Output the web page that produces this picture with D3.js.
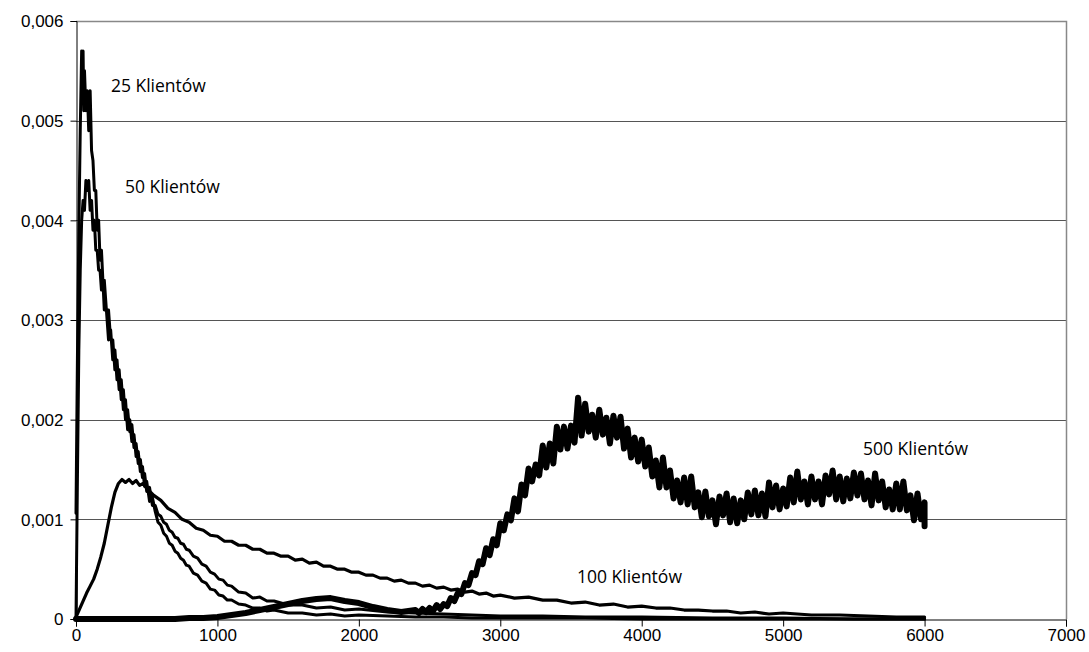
<!DOCTYPE html>
<html><head><meta charset="utf-8">
<script src="https://cdn.jsdelivr.net/npm/d3@7"></script>
<style>body{margin:0;background:#fff}svg{display:block}</style>
</head><body>
<svg id="c" width="1089" height="652"></svg>
<script>
// ---- data (x, probability density) ----
const xTicks = [0,1000,2000,3000,4000,5000,6000,7000];
const yTicks = [0,0.001,0.002,0.003,0.004,0.005,0.006];
const yTickLabels = ["0","0,001","0,002","0,003","0,004","0,005","0,006"];
const seriesNames = ["25 Klientów","50 Klientów","100 Klientów","500 Klientów"];

const s25 = [[0,0.00106],[10,0.0026],[20,0.0039],[30,0.0049],[40,0.0057],[45,0.0052],[50,0.0057],[55,0.0051],[60,0.0055],[70,0.0051],
[80,0.0053],[90,0.0049],[100,0.0053],[110,0.0047],[120,0.0046],[130,0.0043],[140,0.0043],[150,0.0039],[160,0.004],[170,0.0036],
[180,0.0037],[190,0.0034],[200,0.0034],[215,0.0031],[230,0.0031],[245,0.0028],[260,0.0028],[275,0.0025],[290,0.0026],[305,0.0023],
[320,0.0024],[335,0.0021],[350,0.0022],[365,0.0019],[380,0.002],[395,0.00178],[410,0.00185],[425,0.00163],[440,0.00168],[455,0.00148],
[470,0.00153],[485,0.00133],[500,0.00138],[520,0.00118],[540,0.00122],[560,0.00108],[580,0.00097],[600,0.00094],[620,0.00086],[640,0.00083],
[660,0.00076],[680,0.00074],[700,0.00068],[720,0.00066],[740,0.00061],[760,0.00059],[780,0.00054],[800,0.00053],[830,0.00046],[860,0.00044],
[890,0.00038],[920,0.00036],[950,0.0003],[980,0.00029],[1010,0.00024],[1040,0.00023],[1070,0.00019],[1100,0.00019],[1150,0.00015],[1200,0.00014],
[1250,0.00011],[1300,0.00011],[1350,0.00008],[1400,0.00009],[1500,0.00006],[1600,0.00006],[1700,0.00004],[1800,0.00005],[1900,0.00003],[2000,0.00004],
[2200,0.00003],[2400,0.00002],[2600,0.00002],[2800,0.00001],[3000,0.00001],[3300,0.00001],[3600,0.00001],[4000,0],[4500,0],[5000,0],[5500,0],[6000,0]];

const s50 = [[0,0],[10,0.0014],[20,0.0027],[30,0.0035],[40,0.004],[50,0.0042],[60,0.0041],[70,0.0044],[80,0.0043],[90,0.0044],
[100,0.0041],[110,0.0042],[120,0.0039],[130,0.004],[140,0.0037],[150,0.0037],[160,0.0035],[170,0.0035],[180,0.0033],[190,0.0034],
[200,0.0031],[215,0.0031],[230,0.0028],[245,0.0029],[260,0.0026],[275,0.0027],[290,0.0024],[305,0.0025],[320,0.0022],[335,0.0023],
[350,0.002],[365,0.0021],[380,0.00188],[395,0.00195],[410,0.00172],[425,0.00176],[440,0.00156],[455,0.0016],[470,0.00142],[485,0.00146],
[500,0.00128],[520,0.00132],[540,0.00114],[560,0.00114],[580,0.00105],[600,0.00103],[620,0.00097],[640,0.00095],[660,0.00089],[680,0.00087],
[700,0.00082],[720,0.00081],[740,0.00076],[760,0.00075],[780,0.0007],[800,0.00069],[830,0.00063],[860,0.00061],[890,0.00055],[920,0.00053],
[950,0.00047],[980,0.00045],[1010,0.0004],[1040,0.00039],[1070,0.00034],[1100,0.00033],[1150,0.00027],[1200,0.00026],[1250,0.00021],[1300,0.00022],
[1350,0.00018],[1400,0.00018],[1500,0.00014],[1600,0.00014],[1700,0.00011],[1800,0.00012],[1900,0.00009],[2000,0.0001],[2200,0.00007],[2400,0.00006],
[2600,0.00005],[2800,0.00004],[3000,0.00003],[3300,0.00003],[3600,0.00002],[4000,0.00002],[4500,0.00001],[5000,0.00001],[5500,0],[6000,0]];

const s100 = [[0,0.00002],[25,0.0001],[50,0.00018],[75,0.00026],[100,0.00033],[125,0.0004],[150,0.0005],[175,0.00062],[200,0.00076],[225,0.00094],
[250,0.00112],[275,0.00127],[300,0.00136],[325,0.0014],[350,0.00137],[375,0.0014],[400,0.00136],[425,0.00139],[450,0.00134],[475,0.00136],
[500,0.00131],[550,0.00124],[600,0.00119],[650,0.00111],[700,0.00107],[750,0.001],[800,0.00097],[850,0.00091],[900,0.00089],[950,0.00084],
[1000,0.00083],[1050,0.00078],[1100,0.00078],[1150,0.00074],[1200,0.00074],[1250,0.0007],[1300,0.0007],[1350,0.00066],[1400,0.00066],[1450,0.00063],
[1500,0.00063],[1550,0.00059],[1600,0.0006],[1650,0.00056],[1700,0.00057],[1750,0.00053],[1800,0.00053],[1850,0.0005],[1900,0.0005],[1950,0.00047],
[2000,0.00047],[2050,0.00044],[2100,0.00044],[2150,0.00041],[2200,0.00041],[2250,0.00038],[2300,0.00039],[2350,0.00036],[2400,0.00036],[2450,0.00033],
[2500,0.00034],[2550,0.00031],[2600,0.00032],[2650,0.00029],[2700,0.0003],[2750,0.00027],[2800,0.00028],[2850,0.00025],[2900,0.00026],[2950,0.00023],
[3000,0.00024],[3100,0.00021],[3200,0.00022],[3300,0.00019],[3400,0.00019],[3500,0.00016],[3600,0.00017],[3700,0.00014],[3800,0.00015],[3900,0.00012],
[4000,0.00013],[4100,0.00011],[4200,0.00011],[4300,0.00009],[4400,0.00009],[4500,0.00008],[4600,0.00008],[4700,0.00006],[4800,0.00007],[4900,0.00005],
[5000,0.00006],[5200,0.00004],[5400,0.00004],[5600,0.00003],[5800,0.00002],[6000,0.00002]];

const s500 = [[0,0],[100,0],[200,0],[300,0],[400,0],[500,0],[600,0],[700,0],[800,0.00001],[900,0.00001],
[1000,0.00002],[1100,0.00004],[1200,0.00006],[1300,0.00009],[1400,0.00012],[1500,0.00015],[1600,0.00018],[1700,0.0002],[1800,0.00021],[1900,0.00018],
[2000,0.00016],[2100,0.00012],[2200,0.00009],[2300,0.00007],
[2400,0.00009],[2425,0.00006],[2450,0.0001],[2475,0.00007],[2500,0.00011],[2525,0.00008],[2550,0.00014],[2575,0.0001],
[2600,0.00015],[2625,0.00013],[2650,0.00021],[2675,0.00018],[2700,0.00026],[2725,0.00025],[2750,0.00036],[2775,0.00034],
[2800,0.00046],[2825,0.00044],[2850,0.00058],[2875,0.00055],
[2900,0.00071],[2925,0.00064],[2950,0.0008],[2975,0.00074],[3000,0.00096],[3025,0.00089],[3050,0.00105],[3075,0.00099],
[3100,0.00121],[3125,0.00108],[3150,0.00135],[3175,0.00124],[3200,0.00151],[3225,0.00138],[3250,0.00155],[3275,0.00144],
[3300,0.00174],[3325,0.00152],[3350,0.00176],[3375,0.00156],[3400,0.00193],[3425,0.0017],[3450,0.00193],[3475,0.00171],
[3500,0.00194],[3525,0.00177],[3550,0.00222],[3575,0.00184],[3600,0.00216],[3625,0.00188],[3650,0.00205],[3675,0.00182],
[3700,0.0021],[3725,0.00185],[3750,0.00202],[3775,0.00176],[3800,0.00204],[3825,0.00182],[3850,0.00203],[3875,0.00171],
[3900,0.00191],[3925,0.00162],[3950,0.00182],[3975,0.00158],[4000,0.0018],[4025,0.00153],[4050,0.00172],[4075,0.00143],
[4100,0.00159],[4125,0.00132],[4150,0.00162],[4175,0.00132],[4200,0.00149],[4225,0.00121],[4250,0.00139],[4275,0.00117],
[4300,0.00142],[4325,0.00115],[4350,0.00143],[4375,0.00112],[4400,0.00127],[4425,0.00102],[4450,0.00128],[4475,0.00103],
[4500,0.00119],[4525,0.00095],[4550,0.00123],[4575,0.00104],[4600,0.00126],[4625,0.00097],[4650,0.00121],[4675,0.00096],
[4700,0.00119],[4725,0.001],[4750,0.00127],[4775,0.00105],[4800,0.00129],[4825,0.00104],[4850,0.00126],[4875,0.00103],
[4900,0.00137],[4925,0.00112],[4950,0.00134],[4975,0.0011],[5000,0.00131],[5025,0.00113],[5050,0.00142],[5075,0.00117],
[5100,0.00148],[5125,0.0012],[5150,0.00138],[5175,0.00115],[5200,0.00143],[5225,0.0012],[5250,0.00138],[5275,0.00115],
[5300,0.00144],[5325,0.00125],[5350,0.00149],[5375,0.0012],[5400,0.00143],[5425,0.00118],[5450,0.00141],[5475,0.00121],
[5500,0.00147],[5525,0.00124],[5550,0.00146],[5575,0.0012],[5600,0.00139],[5625,0.00114],[5650,0.00146],[5675,0.00119],
[5700,0.00138],[5725,0.00112],[5750,0.0013],[5775,0.0011],[5800,0.00136],[5825,0.0011],[5850,0.00138],[5875,0.00109],
[5900,0.00124],[5925,0.00099],[5950,0.00126],[5975,0.001],[6000,0.00117],[6000,0.00093]];

// label anchor positions in data units
const labelPos = [[247,0.00529],[346,0.00427],[3542,0.00036],[5565,0.00165]];

// ---- drawing ----
const svg = d3.select("#c");
const L = 76, R = 1066, T = 21, B = 619;
const x = d3.scaleLinear().domain([0,7000]).range([L,R]);
const y = d3.scaleLinear().domain([0,0.006]).range([B,T]);

// gridlines
svg.append("g").selectAll("line").data(yTicks.slice(1,-1)).join("line")
  .attr("x1",L).attr("x2",R).attr("y1",d=>Math.round(y(d))+0.5).attr("y2",d=>Math.round(y(d))+0.5)
  .attr("stroke","#555").attr("stroke-width",1);
// frame top/right
svg.append("path").attr("d",`M${L},${T+0.5}H${R+0.5}V${B}`).attr("fill","none").attr("stroke","#888").attr("stroke-width",1.5);

// axes
const yAxis = d3.axisLeft(y).tickValues(yTicks).tickSize(6).tickFormat((d,i)=>yTickLabels[i]);
const gy = svg.append("g").attr("transform",`translate(${L+0.5},0)`).call(yAxis);
const xAxis = d3.axisBottom(x).tickValues(xTicks).tickSize(7).tickFormat(d=>String(d));
const gx = svg.append("g").attr("transform",`translate(0,${B+0.5})`).call(xAxis);
[gx,gy].forEach(g=>{
  g.select(".domain").attr("stroke","#000");
  g.selectAll(".tick line").attr("stroke","#000");
  g.selectAll("text").attr("fill","#000").style("font-family","'Liberation Sans', Arial, sans-serif").style("font-size","17px");
});
gy.selectAll("text").attr("x",-13).attr("dy","0.35em");
gx.selectAll("text").attr("y",9);

// series
const line = d3.line().x(d=>x(d[0])).y(d=>y(d[1]));
const data = [s25, s50, s100, s500];
const widths = [3, 3, 3.2, 6];
svg.append("g").selectAll("path").data(data).join("path")
  .attr("d",line).attr("fill","none").attr("stroke","#000")
  .attr("stroke-width",(d,i)=>widths[i]).attr("stroke-linejoin","round").attr("stroke-linecap","round");

// labels
svg.append("g").selectAll("text").data(seriesNames).join("text")
  .attr("x",(d,i)=>x(labelPos[i][0])).attr("y",(d,i)=>y(labelPos[i][1]))
  .text(d=>d)
  .style("font-family","'Open Sans', 'Noto Sans', sans-serif").style("font-size","17.5px").attr("fill","#000");
</script>
</body></html>
